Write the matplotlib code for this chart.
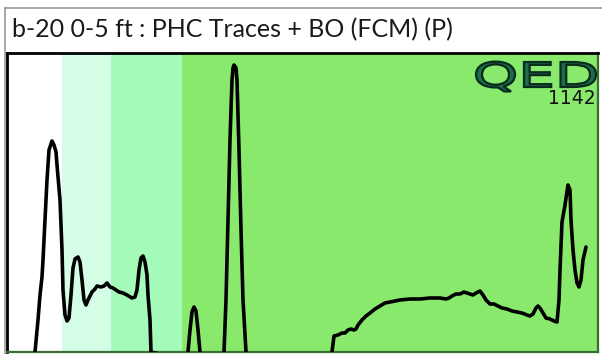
import matplotlib
matplotlib.use("Agg")
import matplotlib.pyplot as plt
from matplotlib.lines import Line2D
from matplotlib.patches import PathPatch
from matplotlib.textpath import TextPath
from matplotlib.font_manager import FontProperties
from matplotlib.transforms import Affine2D

W, H = 602, 354

title = "b-20 0-5 ft : PHC Traces + BO (FCM) (P)"
logo_text = "QED"
logo_code = "1142"

# retention-window bands (x start, x end, colour)
band_edges = [0, 55, 104, 175, 591]
band_colors = ["#ffffff", "#d4fde6", "#a3fab9", "#88e96c"]

# chromatogram trace (retention position, detector response)
trace_x = [24, 28, 31, 33, 35, 36, 38, 40, 42, 45, 47, 49, 50, 53, 55, 56,
           58, 60, 62, 64, 66, 68, 71, 73, 75, 77, 79, 81, 83, 85, 88, 90,
           94, 97, 100, 103, 106, 109, 112, 116, 120, 125, 128, 130, 132,
           134, 136, 138, 140, 141, 143, 144,
           179, 181, 183, 185, 187, 189, 191, 193, 195,
           215, 217, 219, 221, 223, 225, 226, 227, 229, 230, 232, 234, 236, 239, 241,
           323, 325, 327, 331, 335, 338, 341, 344, 347, 349, 351, 355, 359, 363,
           368, 373, 378, 383, 388, 393, 403, 413, 423, 433, 439, 442, 445, 449,
           453, 457, 460, 463, 466, 469, 473, 476, 479, 483, 487, 491, 495, 500,
           505, 510, 515, 520, 523, 526, 529, 531, 533, 536, 539, 543, 547, 550,
           552, 553, 555, 558, 561, 563, 564, 566, 568, 570, 572, 574, 576, 579]
trace_y = [-8, 0, 32, 57, 75, 92, 132, 172, 202, 211, 207, 200, 187, 152, 102, 62,
           37, 31, 34, 57, 84, 93, 95, 90, 72, 52, 47, 52, 56, 60, 63, 66,
           65, 66, 69, 65, 64, 62, 60, 59, 57, 54, 55, 62, 82, 94, 96, 90, 77,
           57, 32, 0,
           -8, 0, 22, 40, 45, 41, 22, 0, -8,
           -8, 0, 52, 132, 212, 272, 284, 287, 284, 272, 202, 122, 52, 0, -8,
           -8, 0, 16, 17, 19, 19, 22, 23, 22, 23, 27, 32, 36, 39,
           43, 46, 49, 50, 51, 52, 53, 53, 54, 54, 53, 54, 56, 58,
           58, 60, 59, 58, 57, 59, 61, 57, 52, 48, 48, 46, 44, 43,
           41, 40, 39, 37, 36, 38, 44, 46, 44, 39, 34, 33,
           31, 30, 52, 82, 130, 147, 167, 162, 132, 102, 82, 69, 65, 72, 92, 105]

fig = plt.figure(figsize=(W / 100, H / 100), dpi=100)
fig.patch.set_facecolor("white")

# plot area in pixel coordinates
px0, px1, py_top, py_bot = 7, 598, 53, 352
ax = fig.add_axes([px0 / W, (H - py_bot) / H, (px1 - px0) / W, (py_bot - py_top) / H])
for i, c in enumerate(band_colors):
    ax.axvspan(band_edges[i], band_edges[i + 1], color=c, lw=0, zorder=0)
ax.plot(trace_x, trace_y, color="black", lw=2.6, solid_joinstyle="round",
        solid_capstyle="round", zorder=3)
ax.set_xlim(0, 591)
ax.set_ylim(0, 299)
ax.set_xticks([])
ax.set_yticks([])
for side in ["top", "left"]:
    ax.spines[side].set_color("black")
    ax.spines[side].set_linewidth(2.0)
for side in ["right", "bottom"]:
    ax.spines[side].set_color("#3a6e34")
    ax.spines[side].set_linewidth(1.6)

# overlay in pixel units for frame, title and logo
ov = fig.add_axes([0, 0, 1, 1], zorder=5)
ov.set_xlim(0, W)
ov.set_ylim(H, 0)
ov.axis("off")
ov.add_line(Line2D([5, 5], [8, H], color="#9a9a9a", lw=1.2))
ov.add_line(Line2D([5, W], [8, 8], color="#9a9a9a", lw=1.2))

fig.text(12 / W, 1 - 30 / H, title, family="Lato", fontsize=18,
         color="#1a1a1a", va="center", ha="left")

# logo lettering, stretched to a wide face
tp = TextPath((0, 0), logo_text, size=1, prop=FontProperties(family="DejaVu Sans"))
ext = tp.get_extents()
sx = 120 / ext.width
sy = 25 / 0.73
tr = Affine2D().translate(-ext.x0, 0).scale(sx, -sy).translate(476, 87)
patch = PathPatch(tr.transform_path(tp), facecolor="#1a6e49", edgecolor="#0a2a1d",
                  lw=1.6)
ov.add_patch(patch)
ov.text(596, 98, logo_code, family="DejaVu Sans", fontsize=13.5, color="#111111",
        ha="right", va="center")

fig.savefig("out.png", dpi=100)
